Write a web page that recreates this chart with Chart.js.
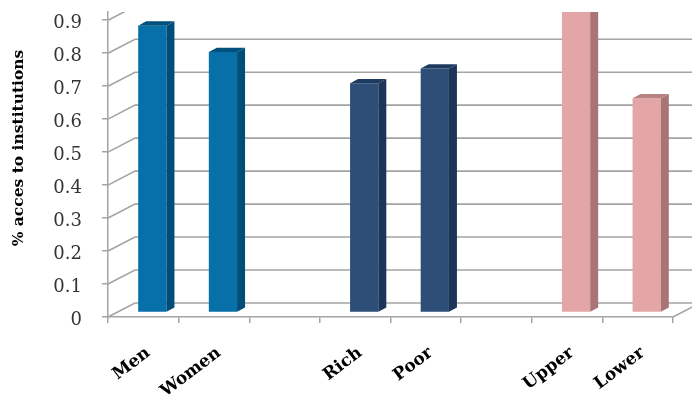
<!DOCTYPE html>
<html>
<head>
<meta charset="utf-8">
<script src="https://cdn.jsdelivr.net/npm/chart.js@4/dist/chart.umd.min.js"></script>
<style>
  html, body { margin: 0; padding: 0; background: #fff; }
  canvas { display: block; }
</style>
</head>
<body>
<canvas id="chart" width="692" height="406"></canvas>
<script>
// Categories (blank entries leave a gap between the groups)
const categories = ['Men', 'Women', '', 'Rich', 'Poor', '', 'Upper', 'Lower'];
// Share with access to institutions
const accessShare = [0.87, 0.79, null, 0.695, 0.74, null, 0.94, 0.65];
// Value axis ticks
const yTickValues = [0, 0.1, 0.2, 0.3, 0.4, 0.5, 0.6, 0.7, 0.8, 0.9];
const yTitle = '% acces to institutions';

// Face colours per bar: front, side, top
const frontColors = ['#0870a9', '#0870a9', null, '#2d4e77', '#2d4e77', null, '#e4a5a6', '#e4a5a6'];
const sideColors  = ['#004d79', '#004d79', null, '#1c3556', '#1c3556', null, '#a97475', '#a97475'];
const topColors   = ['#00507e', '#00507e', null, '#1e3a5e', '#1e3a5e', null, '#b88283', '#b88283'];

// Oblique projection offsets
const WALL = { dx: 27, dy: 14 };      // floor depth, front edge to back wall
const PLANE = { dx: 9, dy: 4.5 };     // front face of the bars inside the floor
const BAR = { dx: 8, dy: 4.3 };       // depth of each bar
const GRID = '#a4a4a4';

const scene3d = {
  id: 'scene3d',
  beforeDatasetsDraw(chart) {
    const { ctx, chartArea: a, scales: { y } } = chart;
    ctx.save();
    ctx.beginPath();
    ctx.rect(0, a.top, chart.width, chart.height - a.top);
    ctx.clip();
    ctx.strokeStyle = GRID;
    ctx.lineWidth = 1.6;
    // back wall gridlines with their slanted side-wall part
    y.ticks.forEach(t => {
      const py = y.getPixelForValue(t.value);
      ctx.beginPath();
      ctx.moveTo(a.left, py);
      ctx.lineTo(a.left + WALL.dx, py - WALL.dy);
      ctx.lineTo(chart.width, py - WALL.dy);
      ctx.stroke();
    });
    // right edge of the floor
    ctx.beginPath();
    ctx.moveTo(a.right, a.bottom);
    ctx.lineTo(a.right + WALL.dx, a.bottom - WALL.dy);
    ctx.stroke();
    ctx.restore();

    // bars sit a little behind the front edge of the floor
    ctx.save();
    ctx.beginPath();
    ctx.rect(0, a.top, chart.width, chart.height - a.top);
    ctx.clip();
    ctx.translate(PLANE.dx, -PLANE.dy);
  },
  afterDatasetsDraw(chart) {
    const ctx = chart.ctx;
    const meta = chart.getDatasetMeta(0);
    meta.data.forEach((bar, i) => {
      if (accessShare[i] == null) return;
      const { x, y, base, width } = bar.getProps(['x', 'y', 'base', 'width'], true);
      const l = x - width / 2, r = x + width / 2;
      ctx.fillStyle = sideColors[i];
      ctx.beginPath();
      ctx.moveTo(r, y);
      ctx.lineTo(r + BAR.dx, y - BAR.dy);
      ctx.lineTo(r + BAR.dx, base - BAR.dy);
      ctx.lineTo(r, base);
      ctx.closePath();
      ctx.fill();
      ctx.fillStyle = topColors[i];
      ctx.beginPath();
      ctx.moveTo(l, y);
      ctx.lineTo(l + BAR.dx, y - BAR.dy);
      ctx.lineTo(r + BAR.dx, y - BAR.dy);
      ctx.lineTo(r, y);
      ctx.closePath();
      ctx.fill();
    });
    ctx.restore();
  },
  afterDraw(chart) {
    const ctx = chart.ctx;
    // value axis title
    ctx.save();
    ctx.translate(19, 148);
    ctx.rotate(-Math.PI / 2);
    ctx.font = 'bold 15.5px "DejaVu Serif"';
    ctx.fillStyle = '#000';
    ctx.textAlign = 'center';
    ctx.textBaseline = 'middle';
    ctx.fillText(yTitle, 0, 0);
    ctx.restore();
  }
};

new Chart(document.getElementById('chart'), {
  type: 'bar',
  data: {
    labels: categories,
    datasets: [{
      data: accessShare,
      backgroundColor: frontColors,
      borderWidth: 0,
      barPercentage: 0.4,
      categoryPercentage: 1,
      clip: false
    }]
  },
  options: {
    responsive: false,
    devicePixelRatio: 1,
    animation: false,
    layout: { autoPadding: false, padding: { top: 12, right: 19, left: 0, bottom: 0 } },
    plugins: { legend: { display: false }, tooltip: { enabled: false } },
    scales: {
      x: {
        grid: { drawOnChartArea: false, tickLength: 6, color: GRID, lineWidth: 1.5 },
        border: { color: GRID, width: 1.5 },
        ticks: {
          minRotation: 37, maxRotation: 37, autoSkip: false,
          labelOffset: 5, padding: 20,
          color: '#000',
          font: { family: '"DejaVu Serif"', size: 17, weight: 'bold' }
        },
        afterFit(s) { s.height = 89; s.paddingLeft = 0; s.paddingRight = 0; }
      },
      y: {
        min: 0,
        max: 0.925,
        afterBuildTicks(s) { s.ticks = yTickValues.map(v => ({ value: v })); },
        grid: { drawOnChartArea: false, tickLength: 6, color: GRID, lineWidth: 1.5 },
        border: { color: GRID, width: 1.5 },
        ticks: {
          padding: 20,
          labelOffset: 3,
          color: '#333',
          font: { family: '"DejaVu Serif"', size: 18 },
          callback: v => v === 0 ? '0' : v.toFixed(1)
        },
        afterFit(s) { s.width = 108; s.paddingTop = 0; s.paddingBottom = 0; }
      }
    }
  },
  plugins: [scene3d]
});
</script>
</body>
</html>
